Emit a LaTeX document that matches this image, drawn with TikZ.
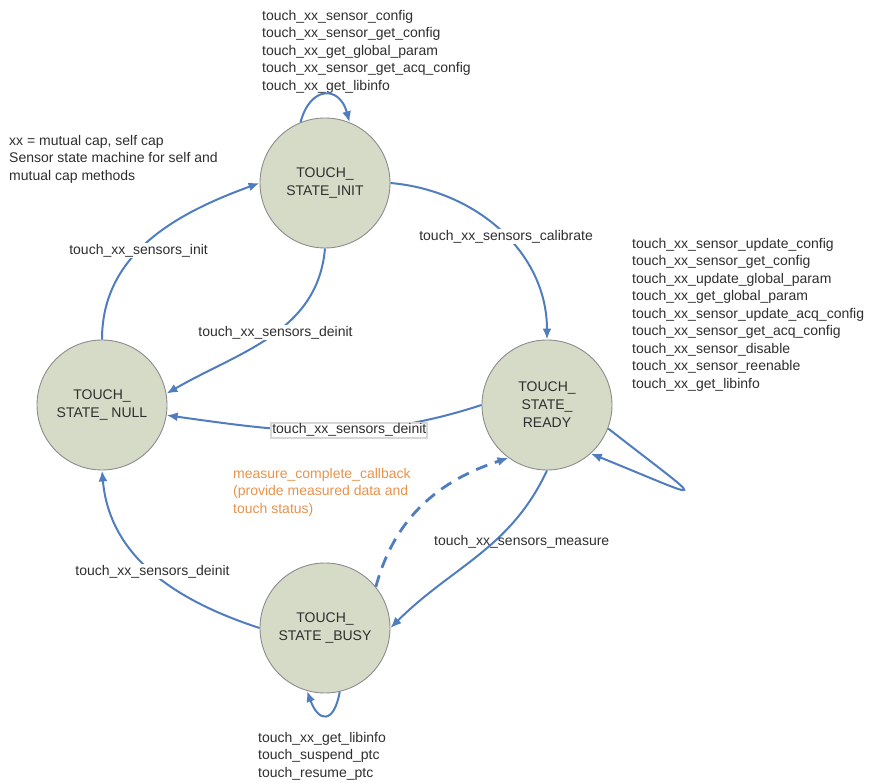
\documentclass[tikz,border=0pt]{standalone}
\usepackage{fontspec}
\setmainfont{Liberation Sans}
\usetikzlibrary{arrows.meta,positioning,calc}
\definecolor{smInk}{HTML}{2E2E2E}
\definecolor{smEdge}{HTML}{4F7DBF}
\definecolor{smFill}{HTML}{D6DBC8}
\definecolor{smLine}{HTML}{8C8C8C}
\definecolor{smOrange}{HTML}{E8924A}
\tikzset{
  stnode/.style={circle,minimum size=130pt,inner sep=0pt,
    align=center,draw=smLine,line width=0.9pt,fill=smFill,
    font=\fontsize{14}{18}\selectfont,text=smInk},
  arr/.style={-{Latex[length=11pt,width=9pt]},line width=2pt,color=smEdge},
  arrd/.style={arr,line width=2.8pt,dash pattern=on 12pt off 8pt},
  lbl/.style={font=\fontsize{14}{17.5}\selectfont,text=smInk,
    fill=white,inner sep=1pt},
  txtblk/.style={font=\fontsize{14}{17.5}\selectfont,text=smInk,
    align=left,anchor=north west,inner sep=0pt},
}
\begin{document}
\begin{tikzpicture}[x=1pt,y=1pt]
  \useasboundingbox (0,0) rectangle (873,782);

  % states
  \node[stnode] (init) at (325,599) {TOUCH\_\\STATE\_INIT};
  \node[stnode] (null) at (102,377) {TOUCH\_\\STATE\_ NULL};
  \node[stnode] (ready) at (547,377) {TOUCH\_\\STATE\_\\READY};
  \node[stnode] (busy) at (325,154) {TOUCH\_\\STATE \_BUSY};

  % api lists
  \node[txtblk] (initops) at (262,772)
    {touch\_xx\_sensor\_config\\touch\_xx\_sensor\_get\_config\\
     touch\_xx\_get\_global\_param\\touch\_xx\_sensor\_get\_acq\_config\\
     touch\_xx\_get\_libinfo};
  \node[txtblk] (readyops) at (632,544)
    {touch\_xx\_sensor\_update\_config\\touch\_xx\_sensor\_get\_config\\
     touch\_xx\_update\_global\_param\\touch\_xx\_get\_global\_param\\
     touch\_xx\_sensor\_update\_acq\_config\\touch\_xx\_sensor\_get\_acq\_config\\
     touch\_xx\_sensor\_disable\\touch\_xx\_sensor\_reenable\\
     touch\_xx\_get\_libinfo};
  \node[txtblk] (busyops) at (258,50)
    {touch\_xx\_get\_libinfo\\touch\_suspend\_ptc\\touch\_resume\_ptc};
  \node[txtblk] (legend) at (9,647)
    {xx = mutual cap, self cap\\Sensor state machine for self and\\mutual cap methods};
  \node[txtblk,text=smOrange] (cbnote) at (233,314)
    {measure\_complete\_callback\\(provide measured data and\\touch status)};

  % transitions
  \draw[arr] (null.north) to[out=90,in=200]
    node[lbl,pos=0.43] {touch\_xx\_sensors\_init} (init.west);
  \draw[arr] (init.south) to[out=265,in=30]
    node[lbl,pos=0.47] {touch\_xx\_sensors\_deinit} (null.10);
  \draw[arr] (ready.west) to[out=198,in=-8]
    node[lbl,draw=smLine!35,pos=0.42] {touch\_xx\_sensors\_deinit} (null.-9);
  \draw[arr] (init.east) to[out=-5,in=90]
    node[lbl,pos=0.53] {touch\_xx\_sensors\_calibrate} (ready.north);
  \draw[arr] (ready.south) to[out=245,in=45]
    node[lbl,fill=none,pos=0.4,xshift=28pt] {touch\_xx\_sensors\_measure} (busy.east);
  \draw[arrd] (busy.39) to[out=75,in=198] (ready.234);
  \draw[arr] (busy.west) to[out=162,in=-85]
    node[lbl,pos=0.5] {touch\_xx\_sensors\_deinit} (null.south);

  % self loops
  \draw[arr] (init.112) to[out=75,in=105,looseness=2.0] (init.68);
  \draw[arr] (busy.-77) to[out=-100,in=-70,looseness=2.6] (busy.-106);
  \draw[arr] (ready.-21) .. controls +(-38:130) and +(-22:130) .. (ready.-48);
\end{tikzpicture}
\end{document}
